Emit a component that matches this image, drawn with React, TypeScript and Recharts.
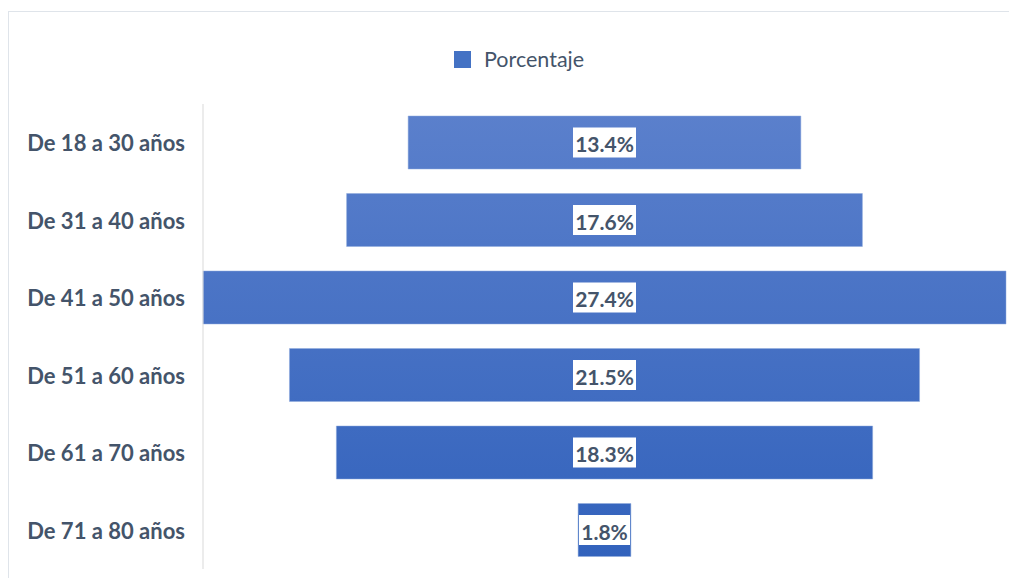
import React from 'react';
import { BarChart, Bar, XAxis, YAxis } from 'recharts';

const categories = ['De 18 a 30 años', 'De 31 a 40 años', 'De 41 a 50 años', 'De 51 a 60 años', 'De 61 a 70 años', 'De 71 a 80 años'];
const values = [13.4, 17.6, 27.4, 21.5, 18.3, 1.8];
const seriesName = 'Porcentaje';

const maxValue = Math.max(...values);
const data = categories.map((name, i) => ({
  name,
  offset: (maxValue - values[i]) / 2,
  value: values[i],
}));

const TEXT = '#44546a';
const FONT = 'Lato, "Open Sans", sans-serif';

const renderLabel = (props: any) => {
  const { x, y, width, height, index } = props;
  const txt = `${values[index].toFixed(1)}%`;
  const cx = x + width / 2;
  const cy = y + height / 2;
  const w = txt.length * 12 + 3;
  const h = 30;
  return (
    <g>
      <rect x={cx - w / 2} y={cy - h / 2} width={w} height={h} fill="#ffffff" />
      <text x={cx} y={cy + 1} textAnchor="middle" dominantBaseline="central" fontFamily={FONT} fontWeight={700} fontSize={21} fill={TEXT}>
        {txt}
      </text>
    </g>
  );
};

const renderTick = (props: any) => {
  const { y, payload } = props;
  return (
    <text x={185} y={y} textAnchor="end" dominantBaseline="central" fontFamily={FONT} fontWeight={700} fontSize={22} fill={TEXT}>
      {payload.value}
    </text>
  );
};

export default function App() {
  return (
    <div style={{ position: 'absolute', left: 0, top: 0, width: 1009, height: 578, background: '#fff' }}>
      <div style={{ position: 'absolute', left: 8, top: 11, width: 1001, height: 567, borderTop: '1px solid #dfe4ea', borderLeft: '1px solid #dfe4ea' }} />
      <div style={{ position: 'absolute', left: 454, top: 46, display: 'flex', alignItems: 'center', fontFamily: FONT, fontSize: 21.5, color: TEXT, whiteSpace: 'nowrap' }}>
        <span style={{ display: 'inline-block', width: 17, height: 17, background: '#4472c4', marginRight: 13 }} />
        <span>{seriesName}</span>
      </div>
      <div style={{ position: 'absolute', left: 0, top: 0 }}>
        <BarChart width={1009} height={578} data={data} layout="vertical" margin={{ top: 104, right: 3, left: 0, bottom: 9 }} barSize={53}>
          <defs>
            <linearGradient id="barGrad" gradientUnits="userSpaceOnUse" x1="0" y1="110" x2="0" y2="560">
              <stop offset="0%" stopColor="#5b80cc" />
              <stop offset="100%" stopColor="#3262bc" />
            </linearGradient>
          </defs>
          <XAxis type="number" domain={[0, maxValue]} hide />
          <YAxis type="category" dataKey="name" width={203} axisLine={{ stroke: '#d9d9d9' }} tickLine={false} tick={renderTick} />
          <Bar dataKey="offset" stackId="a" fill="transparent" isAnimationActive={false} legendType="none" />
          <Bar dataKey="value" name={seriesName} stackId="a" fill="url(#barGrad)" stroke="#8faadc" strokeWidth={0.5} isAnimationActive={false} label={renderLabel} />
        </BarChart>
      </div>
    </div>
  );
}
